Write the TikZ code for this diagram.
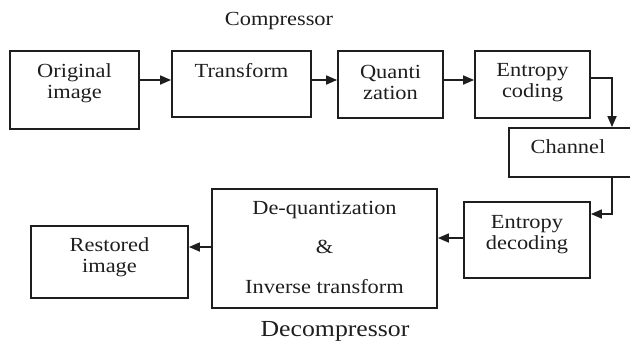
\documentclass[tikz,border=0pt]{standalone}
\usepackage{fontspec}
\setmainfont{Liberation Serif}[FakeStretch=1.12]
\usetikzlibrary{arrows.meta}
\definecolor{ink}{HTML}{1E1E1E}
\tikzset{
  blk/.style={draw=ink, line width=1.8pt, inner sep=0pt},
  lbl/.style={text=ink, align=center, inner sep=0pt, font=\fontsize{20}{21}\selectfont},
  arr/.style={draw=ink, line width=1.7pt, -{Triangle[length=11pt,width=9pt]}},
}
\begin{document}
\begin{tikzpicture}[x=1pt, y=-1pt]
  \useasboundingbox (0,0) rectangle (630,341);
  \clip (0,0) rectangle (630,341);

  % compressor chain
  \node[blk, minimum width=129pt, minimum height=78pt] (orig) at (74.5,90) {};
  \node[lbl] at (74.5,83) {Original\\image};
  \node[blk, minimum width=139pt, minimum height=66pt] (trans) at (241.5,84) {};
  \node[lbl] at (241.5,71) {Transform};
  \node[blk, minimum width=105pt, minimum height=67pt] (quant) at (390.5,84.5) {};
  \node[lbl] at (390.5,82) {Quanti\\zation};
  \node[blk, minimum width=115pt, minimum height=67pt] (enc) at (532.5,84.5) {};
  \node[lbl] at (532.5,83) {Entropy\\coding};
  \node[lbl] (ctitle) at (279,21) {Compressor};

  % channel, running past the right edge
  \node[blk, minimum width=131pt, minimum height=49pt] (chan) at (574.5,152.5) {};
  \node[lbl] at (568,147) {Channel};

  % decompressor chain
  \node[blk, minimum width=126pt, minimum height=76pt] (dec) at (527,240) {};
  \node[lbl] at (527,235) {Entropy\\decoding};
  \node[blk, minimum width=225pt, minimum height=119pt] (inv) at (324.5,248.5) {};
  \node[lbl, font=\fontsize{20}{39.5}\selectfont] at (324.5,247) {De-quantization\\\&\\Inverse transform};
  \node[blk, minimum width=157pt, minimum height=72pt] (rest) at (109.5,262) {};
  \node[lbl] at (109.5,257) {Restored\\image};
  \node[lbl, font=\fontsize{23}{25}\selectfont] (dtitle) at (335,331) {Decompressor};

  % connectors
  \draw[arr] (orig.east |- 0,80) -- (trans.west |- 0,80);
  \draw[arr] (trans.east |- 0,80) -- (quant.west |- 0,80);
  \draw[arr] (quant.east |- 0,80) -- (enc.west |- 0,80);
  \draw[arr] (enc.east |- 0,78) -| (chan.north -| 612,0);
  \draw[arr] (chan.south -| 612,0) |- (dec.east |- 0,214);
  \draw[arr] (dec.west |- 0,238) -- (inv.east |- 0,238);
  \draw[arr] (inv.west |- 0,247) -- (rest.east |- 0,247);
\end{tikzpicture}
\end{document}
